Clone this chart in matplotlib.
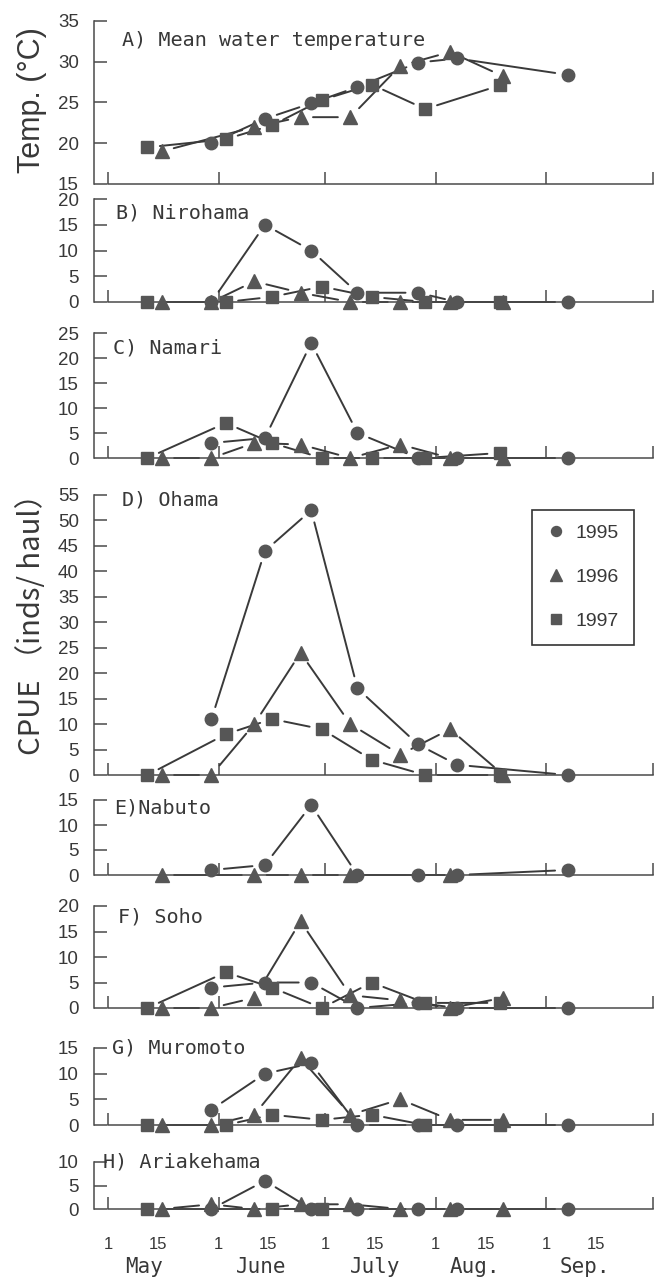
import matplotlib

matplotlib.use("Agg")
import matplotlib.pyplot as plt
import numpy as np
import pandas as pd

# Sampling dates (month-day) for each survey year
DATES_1995 = ["05-30", "06-14", "06-27", "07-10", "07-27", "08-07", "09-07"]
DATES_1996 = ["05-16", "05-30", "06-11", "06-24", "07-08", "07-22", "08-05", "08-20"]
DATES_1997 = ["05-12", "06-03", "06-16", "06-30", "07-14", "07-29", "08-19"]

# A) mean water temperature (deg C); None = not measured
TEMP_1995 = [20.0, 23.0, 24.9, 26.9, 29.9, 30.4, 28.4]
TEMP_1996 = [19.0, None, 22.0, 23.2, 23.2, 29.5, 31.2, 28.2]
TEMP_1997 = [19.5, 20.5, 22.2, 25.3, 27.2, 24.2, 27.1]

# B-H) CPUE (inds/haul) per site
NIROHAMA_1995 = [0, 15, 10, 1.8, 1.8, 0, 0]
NIROHAMA_1996 = [0, 0, 4, 1.8, 0, 0, 0, 0]
NIROHAMA_1997 = [0, 0, 1, 3, 1, 0, 0]

NAMARI_1995 = [3, 4, 23, 5, 0, 0, 0]
NAMARI_1996 = [0, 0, 3, 2.7, 0, 2.7, 0, 0]
NAMARI_1997 = [0, 7, 3, 0, 0, 0, 1]

OHAMA_1995 = [11, 44, 52, 17, 6, 2, 0]
OHAMA_1996 = [0, 0, 10, 24, 10, 4, 9, 0]
OHAMA_1997 = [0, 8, 11, 9, 3, 0, 0]

NABUTO_1995 = [1, 2, 14, 0, 0, 0, 1]
NABUTO_1996 = [0, None, 0, 0, 0, None, 0, None]
NABUTO_1997 = [None, None, None, None, None, None, None]

SOHO_1995 = [4, 5, 5, 0, 1, 0, 0]
SOHO_1996 = [0, 0, 2, 17, 2.5, 1.5, 0, 2]
SOHO_1997 = [0, 7, 4, 0, 5, 1, 1]

MUROMOTO_1995 = [3, 10, 12, 0, 0, 0, 0]
MUROMOTO_1996 = [0, 0, 2, 13, 2, 5, 1, 1]
MUROMOTO_1997 = [0, 0, 2, 1, 2, 0, 0]

ARIAKEHAMA_1995 = [0, 6, 0, 0, 0, 0, 0]
ARIAKEHAMA_1996 = [0, 1, 0, 1, 1, 0, 0, 0]
ARIAKEHAMA_1997 = [0, None, 0, 0, None, None, None]

PANEL_TITLES = ["A) Mean water temperature", "B) Nirohama", "C) Namari", "D) Ohama",
                "E)Nabuto", "F) Soho", "G) Muromoto", "H) Ariakehama"]
YEARS = ["1995", "1996", "1997"]
MONTHS = ["May", "June", "July", "Aug.", "Sep."]

PANELS = [
    (TEMP_1995, TEMP_1996, TEMP_1997),
    (NIROHAMA_1995, NIROHAMA_1996, NIROHAMA_1997),
    (NAMARI_1995, NAMARI_1996, NAMARI_1997),
    (OHAMA_1995, OHAMA_1996, OHAMA_1997),
    (NABUTO_1995, NABUTO_1996, NABUTO_1997),
    (SOHO_1995, SOHO_1996, SOHO_1997),
    (MUROMOTO_1995, MUROMOTO_1996, MUROMOTO_1997),
    (ARIAKEHAMA_1995, ARIAKEHAMA_1996, ARIAKEHAMA_1997),
]
YLIMS = [(15, 35), (0, 20), (0, 25), (0, 55), (0, 15), (0, 20), (0, 15), (0, 10)]

# layout in pixels of the 662x1278 canvas
W, H = 662, 1278
LEFT_PX, RIGHT_PX = 94, 653
TOP_PX = [21, 199, 333, 495, 800, 906, 1048, 1162]
BOTTOM_PX = [184, 302, 458, 775, 875, 1008, 1125, 1209]
TITLE_X_PX = [122, 116, 113, 122, 114, 118, 112, 103]
TITLE_Y_PX = [40, 213, 348, 500, 808, 917, 1048, 1162]

MARKERS = {"1995": ("o", 9.0), "1996": ("^", 10.0), "1997": ("s", 8.5)}
MARKER_COLOR = "#565656"
LINE_COLOR = "#3a3a3a"
AX_COLOR = "#4a4a4a"
TEXT_COLOR = "#383838"
SANS = ["Liberation Sans", "DejaVu Sans"]
MONO = ["DejaVu Sans Mono"]


def to_days(dates):
    """Days elapsed since May 1."""
    t = pd.to_datetime(["2001-" + d for d in dates])
    return np.asarray((t - pd.Timestamp("2001-05-01")).days, dtype=float)


DAYS = {"1995": to_days(DATES_1995), "1996": to_days(DATES_1996), "1997": to_days(DATES_1997)}
MONTH_START = [0, 31, 61, 92, 123, 153]
MID_MONTH = [14, 45, 75, 106, 137]


def draw_series(ax, x, y, marker, ms, label):
    ok = ~np.isnan(y)
    x, y = x[ok], y[ok]
    if len(x) == 0:
        return None
    # segments stop short of the markers, as in the printed figure
    for i in range(len(x) - 1):
        ax.annotate("", xy=(x[i + 1], y[i + 1]), xytext=(x[i], y[i]),
                    arrowprops=dict(arrowstyle="-", color=LINE_COLOR, lw=1.4,
                                    shrinkA=9, shrinkB=9),
                    annotation_clip=False, zorder=2)
    line, = ax.plot(x, y, linestyle="none", marker=marker, ms=ms,
                    color=MARKER_COLOR, mec=MARKER_COLOR, clip_on=False,
                    zorder=3, label=label)
    return line


fig = plt.figure(figsize=(W / 100, H / 100), dpi=100)
axes = []
for k, (series, ylim) in enumerate(zip(PANELS, YLIMS)):
    bottom = 1 - BOTTOM_PX[k] / H
    height = (BOTTOM_PX[k] - TOP_PX[k]) / H
    ax = fig.add_axes([LEFT_PX / W, bottom, (RIGHT_PX - LEFT_PX) / W, height])
    axes.append(ax)
    ax.set_xlim(-4, 153)
    ax.set_ylim(*ylim)

    handles = []
    for year, vals in zip(YEARS, series):
        marker, ms = MARKERS[year]
        h = draw_series(ax, DAYS[year], np.array(vals, dtype=float), marker, ms, year)
        handles.append(h)

    for side in ("top", "right"):
        ax.spines[side].set_visible(False)
    for side in ("left", "bottom"):
        ax.spines[side].set_color(AX_COLOR)
        ax.spines[side].set_linewidth(1.1)
    ax.spines["bottom"].set_bounds(0, 153)
    ax.patch.set_alpha(0)

    ax.set_yticks(np.arange(ylim[0], ylim[1] + 1, 5))
    ax.set_xticks(MONTH_START)
    ax.tick_params(axis="y", direction="in", length=9, width=1.1, color=AX_COLOR,
                   labelsize=13.5, labelcolor=TEXT_COLOR, pad=11)
    ax.tick_params(axis="x", direction="in", length=9, width=1.1, color=AX_COLOR,
                   labelbottom=False)
    for lab in ax.get_yticklabels():
        lab.set_family(SANS)

    fig.text(TITLE_X_PX[k] / W, 1 - TITLE_Y_PX[k] / H, PANEL_TITLES[k],
             family=MONO, fontsize=14.5, color=TEXT_COLOR, ha="left", va="center")

    if k == 3:
        leg = ax.legend(handles=handles, loc="upper left",
                        bbox_to_anchor=(532 / W, 1 - 510 / H),
                        bbox_transform=fig.transFigure, borderaxespad=0,
                        frameon=True, fancybox=False, edgecolor="#333333",
                        framealpha=1, markerscale=0.8, handlelength=1.0,
                        handletextpad=0.5, labelspacing=1.35, borderpad=0.75,
                        prop={"family": SANS, "size": 14})
        leg.get_frame().set_linewidth(1.2)
        for t in leg.get_texts():
            t.set_color(TEXT_COLOR)

# date axis on the lowest panel only
ax = axes[-1]
ax.set_xticks(MONTH_START)
ax.set_xticklabels(["1", "1", "1", "1", "1", ""])
ax.set_xticks(MID_MONTH, minor=True)
ax.set_xticklabels(["15"] * len(MID_MONTH), minor=True)
ax.tick_params(axis="x", which="both", labelbottom=True, labelsize=12,
               labelcolor=TEXT_COLOR, pad=20)
ax.tick_params(axis="x", which="minor", length=0)
for lab in ax.get_xticklabels(which="both"):
    lab.set_family(SANS)
for name, xpos in zip(MONTHS, [10, 43, 75, 103, 134]):
    ax.annotate(name, xy=(xpos, 0), xycoords=("data", "axes fraction"),
                xytext=(0, -42), textcoords="offset points", ha="center", va="center",
                family=MONO, fontsize=15, color=TEXT_COLOR, annotation_clip=False)

fig.text(32 / W, 1 - 100 / H, "Temp. (°C)", rotation=90, ha="center", va="center",
         family=SANS, fontsize=22, color=TEXT_COLOR)
fig.text(32 / W, 1 - 617 / H, "CPUE （inds/ haul）", rotation=90, ha="center", va="center",
         family=["Noto Sans CJK JP", "DejaVu Sans"], fontsize=21, color=TEXT_COLOR)

fig.savefig("out.png", dpi=100, facecolor="white")
